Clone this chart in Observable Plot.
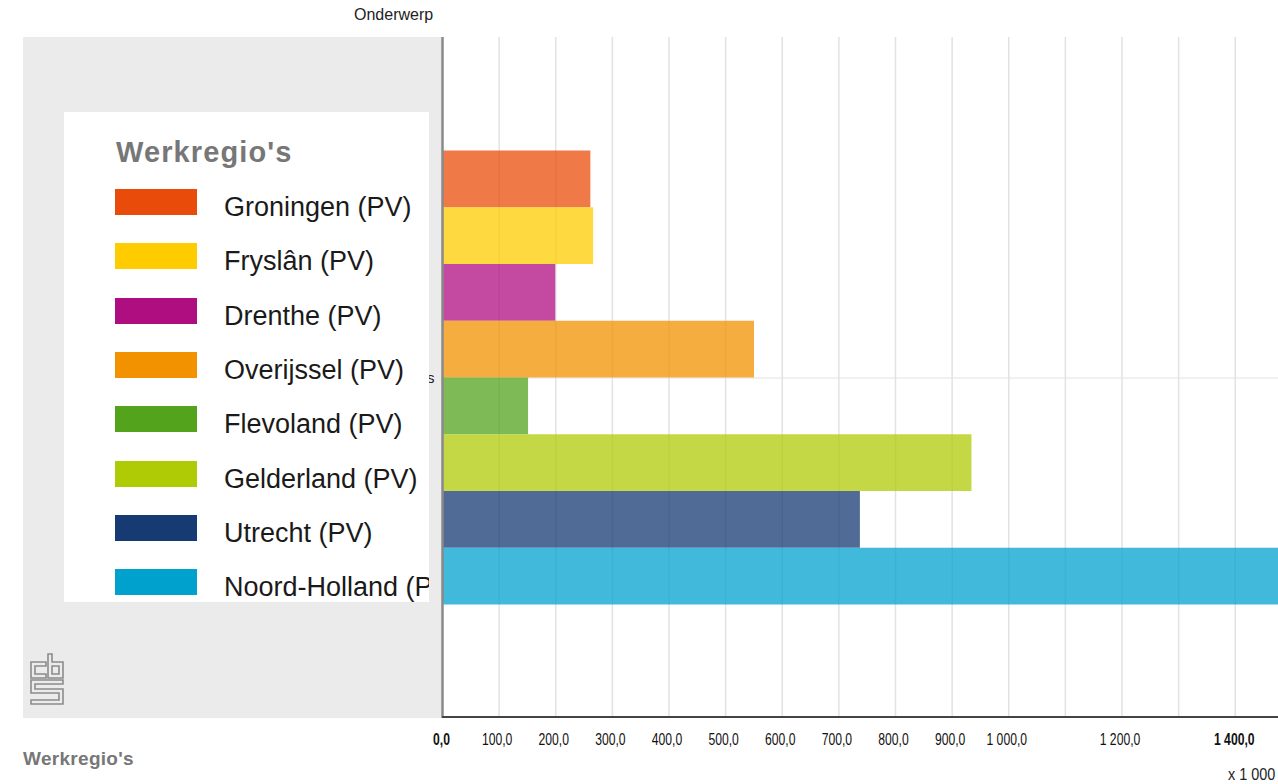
<!DOCTYPE html>
<html><head><meta charset="utf-8">
<script src="https://cdn.jsdelivr.net/npm/d3@7"></script>
<script src="https://cdn.jsdelivr.net/npm/@observablehq/plot@0.6"></script>
<style>
html,body{margin:0;padding:0}
body{width:1278px;height:784px;overflow:hidden;position:relative;background:#fff;font-family:"Liberation Sans",Arial,Helvetica,sans-serif}
#panel{position:absolute;left:23px;top:37px;width:419px;height:681px;background:#ebebeb}
#chart{position:absolute;left:0;top:0}
#chart svg{max-width:none}
#legend{position:absolute;left:64px;top:112px;width:365px;height:490px;background:#fff;overflow:hidden}
#legend .title{position:absolute;left:52px;top:24px;font-size:29px;font-weight:bold;color:#777;white-space:nowrap;letter-spacing:1.1px}
#legend .row{position:absolute;left:51px;height:26px;white-space:nowrap}
#legend .sw{position:absolute;left:0;top:0;width:82px;height:26px}
#legend .lab{position:absolute;left:109px;top:5px;font-size:27px;line-height:26px;color:#1a1a1a}
#onderwerp{position:absolute;left:354px;top:6px;font-size:16px;color:#222}
#baseline{position:absolute;left:442px;top:716px;width:836px;height:2px;background:#444}
#unit{position:absolute;left:1228px;top:766px;font-size:16px;color:#222;white-space:nowrap;transform:scaleX(0.9);transform-origin:left top}
#foot{position:absolute;left:23px;top:748px;font-size:19px;font-weight:bold;color:#777;letter-spacing:0.3px}
#logo{position:absolute;left:29px;top:652px}
</style>
</head><body>
<div id="panel"></div>
<div id="onderwerp">Onderwerp</div>
<div id="chart"></div>
<div id="baseline"></div>
<div id="legend"></div>
<svg id="logo" width="36" height="54" viewBox="0 0 36 54" fill="none" stroke="#8c8c8c" stroke-width="1.6">
  <path d="M17 10 H2 V26 H17 V22 H6 V14 H17 Z"/>
  <path d="M19 2 H23 V10 H34 V26 H19 Z M23 14 V22 H30 V14 Z"/>
  <path d="M2 28 H34 V32 H6 V37 H34 V52 H2 V48 H30 V41 H2 Z"/>
</svg>
<div id="foot">Werkregio's</div>
<div id="unit">x 1 000</div>
<script>
const category = "Werkregio's";
const regions = ["Groningen (PV)", "Fryslân (PV)", "Drenthe (PV)", "Overijssel (PV)", "Flevoland (PV)", "Gelderland (PV)", "Utrecht (PV)", "Noord-Holland (PV)"];
const values = [262, 267, 200, 551, 152, 935, 738, 1560];
const colors = ["#e94c0a", "#ffcc00", "#af0e80", "#f39200", "#53a31d", "#afcb05", "#163a72", "#00a1cd"];
const normalTicks = [100, 200, 300, 400, 500, 600, 700, 800, 900, 1000, 1200];
const boldTicks = [0, 1400];
const gridTicks = [100, 200, 300, 400, 500, 600, 700, 800, 900, 1000, 1100, 1200, 1300, 1400, 1500, 1600];

const data = regions.map((r, i) => ({region: r, value: values[i], cat: category}));
const nl = d3.formatLocale({decimal: ",", thousands: "\u00a0", grouping: [3], currency: ["€", ""]});
const fmt = nl.format(",.1f");

const chart = Plot.plot({
  width: 1348, height: 760,
  marginTop: 37, marginBottom: 42, marginLeft: 442, marginRight: 0,
  style: {fontFamily: "'Liberation Sans', Arial, sans-serif", background: "transparent", maxWidth: "none"},
  x: {domain: [0, 1600], axis: null},
  y: {domain: regions, paddingInner: 0, paddingOuter: 2, round: false, axis: null},
  fy: {domain: [category], padding: 0, round: false, axis: null},
  color: {domain: regions, range: colors},
  marks: [
    Plot.gridX(gridTicks, {stroke: "#e2e2e2", strokeOpacity: 1, strokeWidth: 1.5}),
    Plot.gridFy({stroke: "#e2e2e2", strokeOpacity: 1}),
    Plot.axisFy({anchor: "left", tickSize: 0, tickPadding: 8, label: null, fontSize: 15, fill: "#222"}),
    Plot.barX(data, {x: "value", y: "region", fy: "cat", fill: "region", fillOpacity: 0.75}),
    Plot.ruleX([0], {stroke: "#8a8a8a", strokeWidth: 2.5}),
    Plot.axisX(normalTicks, {tickSize: 0, tickPadding: 15, dx: -2, tickFormat: fmt, fontSize: 16, fill: "#111", label: null, className: "xt"}),
    Plot.axisX(boldTicks, {tickSize: 0, tickPadding: 15, dx: -1, tickFormat: fmt, fontSize: 16, fontWeight: "bold", fill: "#111", label: null, className: "xt"})
  ]
});
document.getElementById("chart").appendChild(chart);
// condensed look of the tick labels
d3.select(chart).selectAll("g.xt text").each(function() {
  const tr = this.getAttribute("transform") || "";
  this.setAttribute("transform", tr + " scale(0.76,1)");
});

const legend = document.getElementById("legend");
const t = document.createElement("div");
t.className = "title"; t.textContent = category;
legend.appendChild(t);
regions.forEach((r, i) => {
  const row = document.createElement("div");
  row.className = "row";
  row.style.top = (77 + i * 54.3) + "px";
  const sw = document.createElement("div");
  sw.className = "sw"; sw.style.background = colors[i];
  const lab = document.createElement("div");
  lab.className = "lab"; lab.textContent = r;
  row.appendChild(sw); row.appendChild(lab);
  legend.appendChild(row);
});
</script>
</body></html>
